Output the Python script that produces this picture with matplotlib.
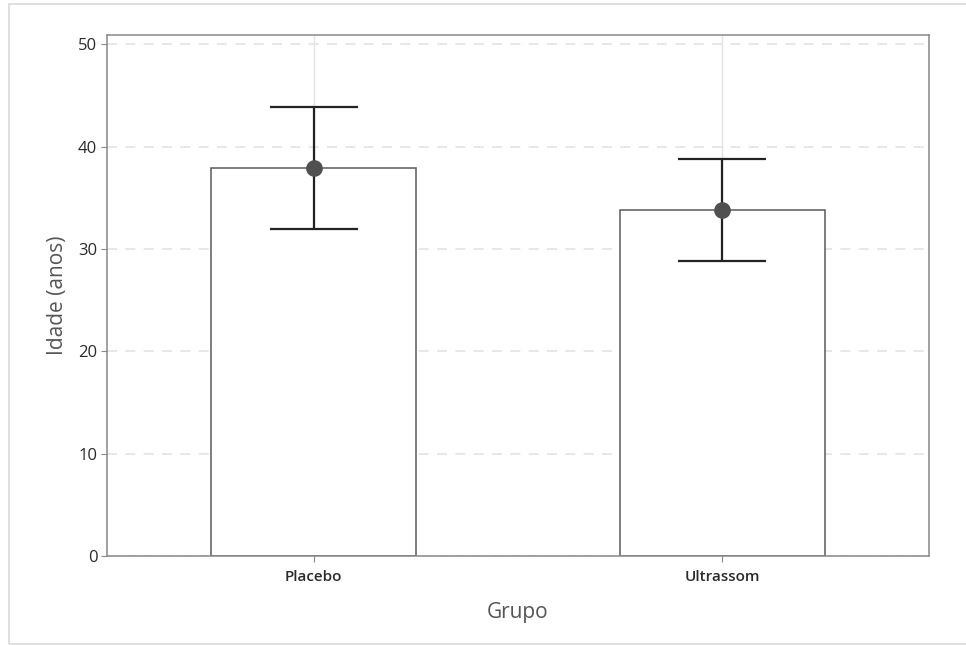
import matplotlib.pyplot as plt
from matplotlib.patches import Rectangle

# Médias e erros por grupo
grupos = ['Placebo', 'Ultrassom']
medias = [37.9, 33.8]
erros = [6.0, 4.95]

plt.rcParams['font.family'] = ['Open Sans', 'DejaVu Sans']

fig = plt.figure(figsize=(9.66, 6.45), dpi=100)
ax = fig.add_axes([0.1108, 0.138, 0.8509, 0.8077])

# moldura clara em volta da figura
fig.patches.append(Rectangle((9 / 966, 1 / 645), 1.2, 640 / 645, transform=fig.transFigure,
                             fill=False, edgecolor='#d9d9d9', linewidth=1.2))

x = list(range(len(grupos)))
ax.bar(x, medias, width=0.5, color='white', edgecolor='#5a5a5a', linewidth=1.1, zorder=2)
ax.errorbar(x, medias, yerr=erros, fmt='none', ecolor='#222222', elinewidth=1.6,
            capsize=32, capthick=1.6, zorder=3)
ax.plot(x, medias, 'o', color='#505050', markersize=11, zorder=4)

ax.set_xlim(-0.505, 1.505)
ax.set_ylim(0, 50.9)
ax.set_yticks([0, 10, 20, 30, 40, 50])
ax.set_xticks(x)
ax.set_xticklabels(grupos, fontsize=11, fontweight='semibold', color='#2a2a2a')
ax.tick_params(axis='y', labelsize=12, labelcolor='#2a2a2a', color='#888888', length=4, pad=3)
ax.tick_params(axis='x', color='#888888', length=4, pad=6)

ax.grid(axis='y', linestyle=(0, (6, 5)), color='#e3e3e3', linewidth=1.2, zorder=0)
ax.grid(axis='x', linestyle='-', color='#e3e3e3', linewidth=1, zorder=0)
ax.set_axisbelow(True)

for s in ax.spines.values():
    s.set_color('#888888')
    s.set_linewidth(1.1)

ax.set_xlabel('Grupo', fontsize=15, color='#555555', labelpad=13)
ax.set_ylabel('Idade (anos)', fontsize=15, color='#555555', labelpad=7)

plt.savefig('out.png', dpi=100)
